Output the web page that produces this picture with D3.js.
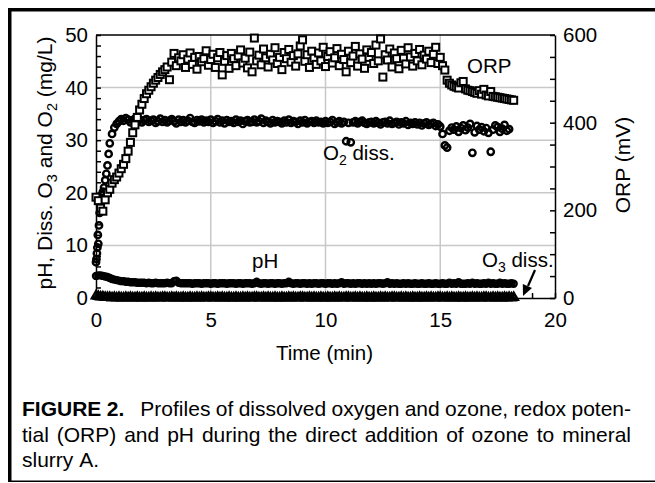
<!DOCTYPE html>
<html>
<head>
<meta charset="utf-8">
<script src="https://cdn.jsdelivr.net/npm/d3@7"></script>
<style>
    body { margin: 0; background: #fff; }
    svg text { font-family: "Liberation Sans", Arial, Helvetica, sans-serif; fill: #000; }
</style>
</head>
<body>
<svg id="chart" width="655" height="483"></svg>
<script>
// sampling times (min), shared by all series
const minutes = [
    0, 0.1, 0.2, 0.3, 0.4, 0.5, 0.6, 0.7, 0.8, 0.9,
    1, 1.1, 1.2, 1.3, 1.4, 1.5, 1.6, 1.7, 1.8, 1.9,
    2, 2.1, 2.2, 2.3, 2.4, 2.5, 2.6, 2.7, 2.8, 2.9,
    3, 3.1, 3.2, 3.3, 3.4, 3.5, 3.6, 3.7, 3.8, 3.9,
    4, 4.1, 4.2, 4.3, 4.4, 4.5, 4.6, 4.7, 4.8, 4.9,
    5, 5.1, 5.2, 5.3, 5.4, 5.5, 5.6, 5.7, 5.8, 5.9,
    6, 6.1, 6.2, 6.3, 6.4, 6.5, 6.6, 6.7, 6.8, 6.9,
    7, 7.1, 7.2, 7.3, 7.4, 7.5, 7.6, 7.7, 7.8, 7.9,
    8, 8.1, 8.2, 8.3, 8.4, 8.5, 8.6, 8.7, 8.8, 8.9,
    9, 9.1, 9.2, 9.3, 9.4, 9.5, 9.6, 9.7, 9.8, 9.9,
    10, 10.1, 10.2, 10.3, 10.4, 10.5, 10.6, 10.7, 10.8, 10.9,
    11, 11.1, 11.2, 11.3, 11.4, 11.5, 11.6, 11.7, 11.8, 11.9,
    12, 12.1, 12.2, 12.3, 12.4, 12.5, 12.6, 12.7, 12.8, 12.9,
    13, 13.1, 13.2, 13.3, 13.4, 13.5, 13.6, 13.7, 13.8, 13.9,
    14, 14.1, 14.2, 14.3, 14.4, 14.5, 14.6, 14.7, 14.8, 14.9,
    15, 15.1, 15.2, 15.3, 15.4, 15.5, 15.6, 15.7, 15.8, 15.9,
    16, 16.1, 16.2, 16.3, 16.4, 16.5, 16.6, 16.7, 16.8, 16.9,
    17, 17.1, 17.2, 17.3, 17.4, 17.5, 17.6, 17.7, 17.8, 17.9,
    18, 18.1, 18.2
];

// ORP (mV, right axis)
const orpMv = [
    230, 222, 205, 198, 224, 240, 248, 262, 270, 276,
    285, 295, 305, 318, 335, 355, 377, 395, 412, 429,
    442, 455, 466, 474, 482, 490, 497, 503, 510, 516,
    521, 527, 498, 538, 558, 530, 548, 541, 555, 526,
    545, 559, 533, 549, 522, 551, 539, 546, 564, 531,
    544, 556, 526, 548, 560, 509, 540, 553, 524, 558,
    546, 530, 552, 566, 536, 547, 525, 561, 516, 593,
    541, 554, 532, 568, 548, 527, 556, 543, 571, 535,
    549, 521, 560, 546, 567, 538, 553, 529, 557, 575,
    589, 540, 555, 526, 563, 547, 533, 559, 541, 572,
    528, 551, 562, 536, 548, 569, 530, 556, 544, 516,
    563, 537, 552, 574, 529, 557, 545, 524, 566, 549,
    560, 535, 577, 541, 591, 504, 555, 543, 568, 527,
    559, 546, 523, 565, 547, 534, 571, 550, 529, 558,
    541, 567, 532, 554, 545, 563, 537, 556, 572, 535,
    549, 530, 520, 497, 490, 486, 483, 481, 479, 491,
    494, 477, 474, 473, 471, 469, 467, 473, 465, 476,
    463, 461, 471, 460, 459, 458, 457, 456, 455, 454,
    453, 452, 451
];

// dissolved O2 (mg/L), 0 - 18.0 min
const o2Mg = [
    6.8, 10.3, 18.8, 20.2, 22.4, 25.2, 29.4, 31.2, 32.4, 33.1,
    33.6, 34.0, 33.7, 34.2, 33.9, 33.4, 33.8, 34.1, 33.5, 33.9,
    33.4, 33.8, 34.0, 33.5, 33.7, 33.9, 33.3, 33.6, 34.1, 33.5,
    33.8, 33.4, 33.7, 34.0, 33.6, 33.2, 33.9, 33.5, 33.8, 33.4,
    33.7, 34.2, 33.5, 33.3, 33.8, 33.6, 33.9, 33.4, 33.7, 33.5,
    33.9, 33.3, 33.6, 34.0, 33.4, 33.7, 33.2, 33.8, 33.5, 33.6,
    33.3, 33.9, 33.5, 33.7, 33.1, 33.6, 33.8, 33.4, 33.5, 33.9,
    33.4, 33.6, 34.1, 33.3, 33.7, 33.5, 33.2, 33.8, 33.4, 33.6,
    33.5, 33.2, 33.7, 33.4, 33.9, 33.3, 33.6, 33.5, 33.1, 33.7,
    33.4, 33.8, 33.2, 33.5, 33.6, 33.3, 33.7, 33.4, 33.5, 33.2,
    33.6, 33.3, 33.5, 33.8, 33.1, 33.4, 33.6, 33.2, 33.5, 29.8,
    33.3, 29.6, 33.4, 33.6, 33.2, 33.5, 33.7, 33.3, 33.1, 33.4,
    33.5, 33.2, 33.6, 33.3, 33.0, 33.4, 33.5, 33.2, 33.7, 33.1,
    33.3, 33.5, 33.0, 33.4, 33.2, 33.6, 32.9, 33.3, 33.1, 33.4,
    33.0, 33.3, 32.8, 33.2, 33.4, 32.9, 33.1, 33.3, 32.7, 33.0,
    32.6, 31.2, 29.0, 28.6, 31.8, 32.4, 32.0, 32.6, 31.6, 32.3,
    32.8, 31.9, 32.4, 33.1, 27.6, 31.5, 32.7, 32.0, 32.5, 31.7,
    32.3, 31.4, 27.8, 32.0, 32.8, 32.5, 31.6, 32.2, 32.9, 31.8,
    32.1
];

// extra O2 readings during the first seconds
const o2EarlyMin = [0.02, 0.04, 0.06, 0.08, 0.13, 0.16, 0.25, 0.35, 0.45, 0.55];
const o2EarlyMg = [7.4, 8.5, 9.6, 12.0, 13.8, 16.2, 19.6, 21.0, 23.6, 27.4];

// pH
const phValues = [
    4.2, 4.3, 4.3, 4.2, 4.1, 4.0, 3.8, 3.6, 3.5, 3.4,
    3.3, 3.2, 3.2, 3.1, 3.1, 3.0, 3.0, 3.0, 2.9, 2.9,
    2.9, 2.9, 2.8, 2.9, 2.8, 2.8, 2.9, 2.8, 2.8, 2.8,
    2.8, 2.9, 2.8, 2.8, 3.2, 3.3, 2.9, 2.8, 2.8, 2.8,
    2.8, 2.8, 2.7, 2.8, 2.8, 2.8, 2.7, 2.8, 2.8, 2.8,
    2.7, 2.8, 2.8, 2.7, 2.8, 2.8, 2.8, 2.7, 2.8, 2.8,
    2.8, 2.7, 2.8, 2.8, 2.7, 2.8, 2.8, 2.8, 2.7, 2.8,
    3.1, 2.8, 2.7, 2.8, 2.8, 2.7, 2.8, 2.8, 2.7, 2.8,
    2.8, 2.7, 2.8, 2.8, 3.1, 2.8, 2.7, 2.8, 2.8, 2.7,
    2.8, 2.8, 2.7, 2.8, 2.7, 2.8, 2.8, 2.7, 2.8, 2.8,
    2.7, 2.8, 2.8, 2.7, 2.8, 2.7, 2.8, 3.0, 2.7, 2.8,
    2.8, 2.7, 2.8, 2.7, 2.8, 2.8, 2.7, 2.8, 2.7, 2.8,
    2.7, 2.8, 2.7, 2.8, 2.8, 2.7, 2.8, 3.0, 2.7, 2.8,
    2.7, 2.8, 2.7, 2.7, 2.8, 2.7, 2.8, 2.7, 2.7, 2.8,
    2.7, 2.7, 2.8, 2.7, 2.7, 2.8, 2.7, 2.7, 2.8, 2.7,
    2.7, 2.8, 2.7, 2.7, 2.9, 2.7, 2.8, 2.7, 3.0, 2.7,
    2.7, 2.7, 2.8, 2.7, 2.9, 2.7, 2.8, 2.7, 2.7, 2.8,
    2.7, 2.9, 2.7, 2.8, 2.7, 2.7, 2.9, 2.7, 2.8, 2.7,
    2.7, 2.8, 2.7
];

// dissolved O3 (mg/L)
const o3Mg = [
    0.4, 0.3, 0.2, 0.2, 0.1, 0.1, 0.1, 0.0, 0.1, 0.0,
    0.1, 0.0, 0.0, 0.1, 0.0, 0.1, 0.0, 0.0, 0.1, 0.0,
    0.0, 0.1, 0.0, 0.0, 0.1, 0.0, 0.1, 0.0, 0.0, 0.1,
    0.1, 0.0, 0.0, 0.1, 0.0, 0.1, 0.0, 0.0, 0.1, 0.0,
    0.0, 0.1, 0.0, 0.0, 0.1, 0.0, 0.1, 0.0, 0.0, 0.1,
    0.1, 0.0, 0.0, 0.1, 0.0, 0.1, 0.0, 0.0, 0.1, 0.0,
    0.0, 0.1, 0.0, 0.0, 0.1, 0.0, 0.1, 0.0, 0.0, 0.1,
    0.1, 0.0, 0.0, 0.1, 0.0, 0.1, 0.0, 0.0, 0.1, 0.0,
    0.0, 0.1, 0.0, 0.0, 0.1, 0.0, 0.1, 0.0, 0.0, 0.1,
    0.1, 0.0, 0.0, 0.1, 0.0, 0.1, 0.0, 0.0, 0.1, 0.0,
    0.0, 0.1, 0.0, 0.0, 0.1, 0.0, 0.1, 0.0, 0.0, 0.1,
    0.1, 0.0, 0.0, 0.1, 0.0, 0.1, 0.0, 0.0, 0.1, 0.0,
    0.0, 0.1, 0.0, 0.0, 0.1, 0.0, 0.1, 0.0, 0.0, 0.1,
    0.1, 0.0, 0.0, 0.1, 0.0, 0.1, 0.0, 0.0, 0.1, 0.0,
    0.0, 0.1, 0.0, 0.0, 0.1, 0.0, 0.1, 0.0, 0.0, 0.1,
    0.1, 0.0, 0.0, 0.1, 0.0, 0.1, 0.0, 0.0, 0.1, 0.0,
    0.0, 0.1, 0.0, 0.0, 0.1, 0.0, 0.1, 0.0, 0.0, 0.1,
    0.1, 0.0, 0.0, 0.1, 0.0, 0.1, 0.0, 0.0, 0.1, 0.0,
    0.1, 0.0, 0.1
];

const timeTicks = [0, 5, 10, 15, 20];
const leftTicks = [0, 10, 20, 30, 40, 50];
const rightTicks = [0, 200, 400, 600];

const captionLines = [
    'Profiles of dissolved oxygen and ozone, redox poten-',
    'tial (ORP) and pH during the direct addition of ozone to mineral',
    'slurry A.'
];

const AXIS_FONT = '20.5px';
const margin = { left: 96, right: 555, top: 35, bottom: 298 };

const svg = d3.select('#chart');

// outer frame
svg.append('rect').attr('x', 8).attr('y', 8).attr('width', 647).attr('height', 3.5);
svg.append('rect').attr('x', 8).attr('y', 8).attr('width', 3.5).attr('height', 474);
svg.append('rect').attr('x', 8).attr('y', 480.5).attr('width', 647).attr('height', 1.5);

const x = d3.scaleLinear().domain([0, 20]).range([margin.left, margin.right]);
const yLeft = d3.scaleLinear().domain([0, 50]).range([margin.bottom, margin.top]);
const yRight = d3.scaleLinear().domain([0, 600]).range([margin.bottom, margin.top]);

// grid
const grid = svg.append('g').attr('stroke', '#c8c8c8').attr('stroke-width', 1.5);
grid.selectAll('line.v')
    .data(timeTicks.slice(1, -1))
    .join('line')
        .attr('class', 'v')
        .attr('x1', d => x(d)).attr('x2', d => x(d))
        .attr('y1', margin.top).attr('y2', margin.bottom);
grid.selectAll('line.h')
    .data(leftTicks.slice(1, -1))
    .join('line')
        .attr('class', 'h')
        .attr('x1', margin.left).attr('x2', margin.right)
        .attr('y1', d => yLeft(d)).attr('y2', d => yLeft(d));

// top frame line
svg.append('line')
    .attr('x1', margin.left).attr('x2', margin.right)
    .attr('y1', margin.top).attr('y2', margin.top)
    .attr('stroke', '#000').attr('stroke-width', 1.5);

function styleAxis(g) {
    g.selectAll('path, line').attr('stroke', '#000').attr('stroke-width', 1.5);
    g.selectAll('text').attr('font-size', AXIS_FONT).attr('font-family', null).attr('fill', '#000');
}

svg.append('g')
    .attr('transform', 'translate(0,' + margin.bottom + ')')
    .call(d3.axisBottom(x)
        .tickValues(d3.range(0, 21, 1))
        .tickSize(-5).tickSizeOuter(0).tickPadding(14)
        .tickFormat(d => timeTicks.includes(d) ? d : ''))
    .call(styleAxis);

svg.append('g')
    .attr('transform', 'translate(' + margin.left + ',0)')
    .call(d3.axisLeft(yLeft)
        .tickValues(d3.range(0, 51, 2))
        .tickSize(-5).tickSizeOuter(0).tickPadding(8)
        .tickFormat(d => leftTicks.includes(d) ? d : ''))
    .call(styleAxis);

svg.append('g')
    .attr('transform', 'translate(' + margin.right + ',0)')
    .call(d3.axisRight(yRight)
        .tickValues(d3.range(0, 601, 50))
        .tickSize(-5).tickSizeOuter(0).tickPadding(8)
        .tickFormat(d => rightTicks.includes(d) ? d : ''))
    .call(styleAxis);

// series
const marks = svg.append('g').attr('stroke', '#000');

marks.append('g').attr('stroke-width', 2.4).selectAll('path')
    .data(d3.zip(minutes, o3Mg))
    .join('path')
        .attr('d', d3.symbol(d3.symbolTriangle, 30))
        .attr('fill', 'none')
        .attr('transform', d => 'translate(' + x(d[0]) + ',' + yLeft(d[1]) + ')');

marks.append('g').attr('stroke-width', 2.4).selectAll('circle')
    .data(d3.zip(minutes, phValues))
    .join('circle')
        .attr('r', 3)
        .attr('fill', 'none')
        .attr('cx', d => x(d[0]))
        .attr('cy', d => yLeft(d[1]));

marks.append('g').attr('stroke-width', 2.4).selectAll('circle')
    .data(d3.zip(minutes, o2Mg).concat(d3.zip(o2EarlyMin, o2EarlyMg)))
    .join('circle')
        .attr('r', 3.2)
        .attr('fill', 'none')
        .attr('cx', d => x(d[0]))
        .attr('cy', d => yLeft(d[1]));

const sq = 7;
marks.append('g').attr('stroke-width', 2).selectAll('rect')
    .data(d3.zip(minutes, orpMv))
    .join('rect')
        .attr('width', sq).attr('height', sq)
        .attr('fill', '#fff')
        .attr('x', d => x(d[0]) - sq / 2)
        .attr('y', d => yRight(d[1]) - sq / 2);

// axis titles
svg.append('text')
    .attr('x', (margin.left + margin.right) / 2 - 1).attr('y', 360)
    .attr('text-anchor', 'middle').attr('font-size', AXIS_FONT)
    .text('Time (min)');

const leftTitle = svg.append('text')
    .attr('transform', 'translate(52,163) rotate(-90)')
    .attr('text-anchor', 'middle').attr('font-size', '21px');
leftTitle.append('tspan').text('pH, Diss. O');
leftTitle.append('tspan').attr('font-size', '14.5px').attr('dy', 5).text('3');
leftTitle.append('tspan').attr('dy', -5).text(' and O');
leftTitle.append('tspan').attr('font-size', '14.5px').attr('dy', 5).text('2');
leftTitle.append('tspan').attr('dy', -5).text(' (mg/L)');

svg.append('text')
    .attr('transform', 'translate(630,165) rotate(-90)')
    .attr('text-anchor', 'middle').attr('font-size', '21px')
    .text('ORP (mV)');

// series labels
svg.append('text').attr('x', 467).attr('y', 73).attr('font-size', AXIS_FONT).text('ORP');
svg.append('text').attr('x', 252).attr('y', 268).attr('font-size', AXIS_FONT).text('pH');

const o2Label = svg.append('text').attr('x', 323).attr('y', 160).attr('font-size', AXIS_FONT);
o2Label.append('tspan').text('O');
o2Label.append('tspan').attr('font-size', '14px').attr('dy', 5).text('2');
o2Label.append('tspan').attr('dy', -5).text(' diss.');

const o3Label = svg.append('text').attr('x', 482).attr('y', 267).attr('font-size', AXIS_FONT);
o3Label.append('tspan').text('O');
o3Label.append('tspan').attr('font-size', '14px').attr('dy', 5).text('3');
o3Label.append('tspan').attr('dy', -5).text(' diss.');

// arrow to the O3 trace
svg.append('line')
    .attr('x1', 535).attr('y1', 270).attr('x2', 528).attr('y2', 286)
    .attr('stroke', '#000').attr('stroke-width', 2.2);
svg.append('path')
    .attr('d', 'M523,296 L522.8,283.9 L532,287.9 Z')
    .attr('fill', '#000');

// caption, justified line by line
const CAPTION_FONT = 21;
const capX0 = 22, capX1 = 631;
const capBase = [416, 442, 467];

function layoutLine(words, y, justify) {
    const g = svg.append('g');
    const nodes = words.map(w => g.append('text')
        .attr('y', y)
        .attr('font-size', CAPTION_FONT + 'px')
        .attr('font-weight', w.bold ? 'bold' : null)
        .text(w.text));
    const widths = nodes.map(n => n.node().getComputedTextLength());
    const total = d3.sum(widths);
    const weights = words.slice(1).map(w => w.gap || 1);
    const space = CAPTION_FONT * 0.278;
    const unit = justify ? (capX1 - capX0 - total) / d3.sum(weights) : space;
    let cx = capX0;
    nodes.forEach((n, i) => {
        n.attr('x', cx);
        cx += widths[i] + (i < weights.length ? unit * weights[i] : 0);
    });
}

const line1 = [{ text: 'FIGURE', bold: true }, { text: '2.', bold: true }]
    .concat(captionLines[0].split(' ').map((t, i) => ({ text: t, gap: i === 0 ? 3 : 1 })));
layoutLine(line1, capBase[0], true);
layoutLine(captionLines[1].split(' ').map(t => ({ text: t })), capBase[1], true);
layoutLine(captionLines[2].split(' ').map(t => ({ text: t })), capBase[2], false);
</script>
</body>
</html>
